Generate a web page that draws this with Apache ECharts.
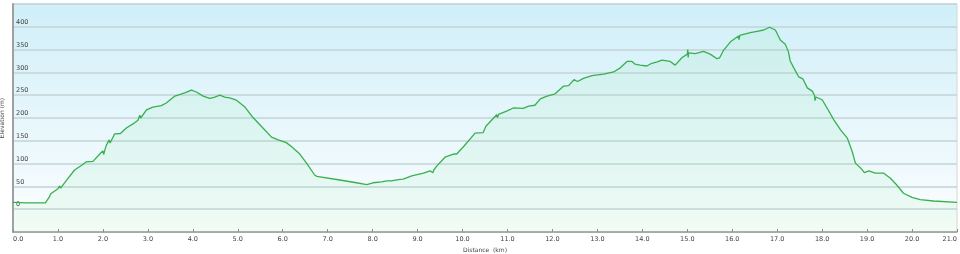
<!DOCTYPE html>
<html>
<head>
<meta charset="utf-8">
<script src="https://cdn.jsdelivr.net/npm/echarts@6/dist/echarts.min.js"></script>
<style>html,body{margin:0;padding:0;background:#fff}#c{width:960px;height:254px}</style>
</head>
<body>
<div id="c"></div>
<script>
// Distance (km)
const distKm = [0,0.3,0.72,0.81,0.84,0.86,1.0,1.04,1.06,1.18,1.37,1.52,1.63,1.78,1.93,2.0,2.02,2.04,2.08,2.14,2.16,2.26,2.39,2.41,2.43,2.52,2.67,2.78,2.82,2.84,2.97,3.11,3.30,3.41,3.60,3.82,3.97,4.08,4.23,4.38,4.49,4.60,4.71,4.82,4.97,5.16,5.34,5.56,5.75,5.90,6.08,6.20,6.38,6.53,6.71,6.74,6.76,6.83,7.27,7.64,7.66,7.68,7.87,8.01,8.2,8.31,8.42,8.57,8.68,8.87,9.13,9.28,9.34,9.36,9.43,9.61,9.8,9.87,10.02,10.28,10.46,10.52,10.54,10.76,10.78,10.80,10.98,11.13,11.35,11.47,11.61,11.73,11.88,12.06,12.25,12.36,12.48,12.56,12.69,12.88,13.14,13.36,13.51,13.66,13.77,13.84,13.95,14.10,14.21,14.33,14.44,14.62,14.73,14.88,15.0,15.01,15.02,15.03,15.18,15.36,15.51,15.66,15.72,15.81,15.96,16.14,16.15,16.17,16.40,16.55,16.70,16.83,16.96,17.07,17.18,17.25,17.29,17.37,17.48,17.57,17.67,17.78,17.83,17.84,17.86,17.89,18.0,18.11,18.26,18.41,18.56,18.67,18.74,18.86,18.94,19.04,19.18,19.37,19.52,19.66,19.81,20.0,20.18,20.48,21.0];
// Elevation (m)
const elevM = [15,14,14,27,34,30,45,51,46,62,86,96,104,105,121,128,120,129,141,152,145,165,166,170,167,178,187,195,206,200,218,224,227,233,248,255,261,257,248,243,246,250,246,244,239,224,201,178,158,152,146,137,121,101,75,78,72,71,64,58,61,57,54,58,60,62,62,65,66,73,79,84,80,86,95,114,121,121,137,167,168,182,182,207,201,208,215,222,221,226,228,242,248,253,270,271,284,280,287,293,296,301,310,324,324,318,316,314,320,323,327,324,316,332,340,350,333,343,341,346,340,330,332,349,367,380,372,381,387,390,393,399,393,371,362,345,325,310,290,286,266,259,250,238,246,244,240,222,196,174,156,126,101,90,80,84,79,79,68,53,35,26,21,18,15];
// Tick labels
const xTicks = [0,1,2,3,4,5,6,7,8,9,10,11,12,13,14,15,16,17,18,19,20,21];
const yTickLabels = [0,50,100,150,200,250,300,350,400];

const data = distKm.map((d, i) => [d, elevM[i]]);
const font = 'DejaVu Sans';

const chart = echarts.init(document.getElementById('c'), null, {renderer: 'canvas'});
chart.setOption({
  animation: false,
  grid: {
    left: 13, right: 3, top: 4, bottom: 22,
    containLabel: false,
    outerBoundsMode: 'none',
    show: true,
    borderColor: '#d6d6d6',
    borderWidth: 1,
    backgroundColor: {
      type: 'linear', x: 0, y: 0, x2: 0, y2: 1,
      colorStops: [
        {offset: 0, color: '#d0eff9'},
        {offset: 0.75, color: '#f1fafd'},
        {offset: 1, color: '#ffffff'}
      ]
    }
  },
  xAxis: {
    type: 'value',
    min: 0, max: 21, interval: 1,
    name: 'Distance  (km)',
    nameLocation: 'middle',
    nameGap: 12,
    nameTextStyle: {fontFamily: font, fontSize: 6, color: '#444'},
    axisLine: {show: true, onZero: false, lineStyle: {color: '#9a9a9a', width: 1.5}},
    axisTick: {show: true, inside: true, length: 3, lineStyle: {color: '#888'}},
    axisLabel: {
      fontFamily: font, fontSize: 6.5, color: '#444', margin: 4,
      alignMinLabel: 'left', alignMaxLabel: 'right',
      formatter: v => xTicks.indexOf(v) >= 0 ? v.toFixed(1) : ''
    },
    splitLine: {show: false}
  },
  yAxis: {
    type: 'value',
    min: -50, max: 450, interval: 50,
    name: 'Elevation (m)',
    nameLocation: 'middle',
    nameRotate: 90,
    nameGap: 4,
    nameTextStyle: {fontFamily: font, fontSize: 6, color: '#444'},
    axisLine: {show: true, onZero: false, lineStyle: {color: '#a0a0a0', width: 2}},
    axisTick: {show: false},
    axisLabel: {
      inside: true, margin: 3,
      fontFamily: font, fontSize: 6.5, color: '#444',
      verticalAlign: 'bottom',
      padding: [0, 0, 1, 0],
      formatter: v => yTickLabels.indexOf(v) >= 0 ? String(v) : ''
    },
    splitLine: {show: true, lineStyle: {color: '#c3d3d8', width: 1.5}}
  },
  series: [{
    type: 'line',
    data: data,
    showSymbol: false,
    smooth: false,
    lineStyle: {color: '#38b04e', width: 1.3},
    areaStyle: {
      origin: 'start',
      color: {
        type: 'linear', x: 0, y: 0, x2: 0, y2: 1,
        colorStops: [
          {offset: 0, color: 'rgba(120,225,150,0.16)'},
          {offset: 1, color: 'rgba(140,230,165,0.17)'}
        ]
      }
    }
  }]
});
</script>
</body>
</html>
